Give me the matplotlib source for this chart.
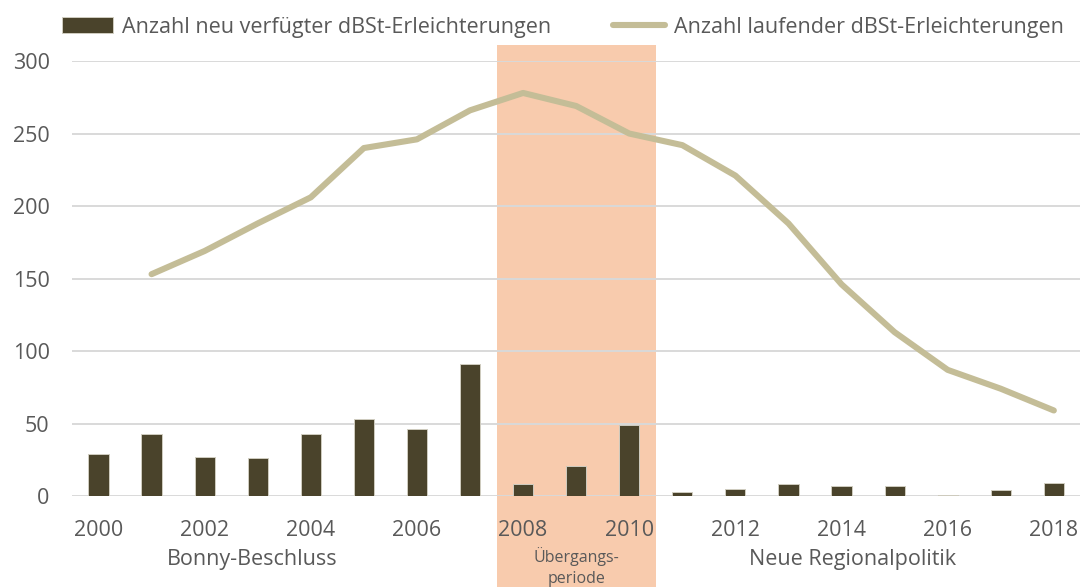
import numpy as np
import matplotlib
matplotlib.use("Agg")
import matplotlib.pyplot as plt

# Daten
jahre = list(range(2000, 2019))
neu_verfuegt = [29, 43, 27, 26, 43, 53, 46, 91, 8, 21, 49, 3, 5, 8, 7, 7, 1, 4, 9]
laufend = [None, 153, 169, 188, 206, 240, 246, 266, 278, 269, 250, 242, 221, 188, 146, 113, 87, 74, 59]
tick_jahre = [2000, 2002, 2004, 2006, 2008, 2010, 2012, 2014, 2016, 2018]
perioden = ["Bonny-Beschluss", "Übergangs-\nperiode", "Neue Regionalpolitik"]
perioden_x = [2002.9, 2009.0, 2014.2]
uebergang = (2007.5, 2010.5)

plt.rcParams['font.family'] = ['Open Sans', 'DejaVu Sans']
plt.rcParams['font.size'] = 15
grau = '#595959'

fig = plt.figure(figsize=(10.82, 5.87), dpi=100)
ax = fig.add_axes([0.0665, 0.155, 0.932, 0.741])

x = np.array(jahre)
y_lauf = np.array([np.nan if v is None else v for v in laufend], dtype=float)

# Übergangsperiode hinterlegen (ragt über die Achsen hinaus)
ax.axvspan(uebergang[0], uebergang[1], ymin=-0.21, ymax=1.037,
           color='#F8CBAD', lw=0, zorder=0.2, clip_on=False)

balken = ax.bar(x, neu_verfuegt, width=0.38, color='#4A432B', edgecolor='#d0cdc0',
                linewidth=0.7, zorder=2, label='Anzahl neu verfügter dBSt-Erleichterungen')
linie, = ax.plot(x, y_lauf, color='#C4BD97', lw=4.4, solid_capstyle='round',
                 solid_joinstyle='round', zorder=3, label='Anzahl laufender dBSt-Erleichterungen')

ax.set_xlim(1999.5, 2018.5)
ax.set_ylim(0, 300)
ax.set_yticks(range(0, 301, 50))
ax.set_xticks(tick_jahre)
ax.grid(axis='y', color='#D9D9D9', lw=1.4)
ax.set_axisbelow(True)
ax.set_facecolor('none')
for s in ax.spines.values():
    s.set_visible(False)
ax.tick_params(axis='both', length=0, colors=grau, labelsize=15.5)
ax.tick_params(axis='y', pad=16)
ax.tick_params(axis='x', pad=17)

# Periodenbeschriftung
trans = ax.get_xaxis_transform()
ax.text(perioden_x[0], -0.147, perioden[0], transform=trans, ha='center', va='center',
        fontsize=15.5, color=grau)
ax.text(perioden_x[1], -0.163, perioden[1], transform=trans, ha='center', va='center',
        fontsize=11.5, color=grau, linespacing=1.45)
ax.text(perioden_x[2], -0.147, perioden[2], transform=trans, ha='center', va='center',
        fontsize=15.5, color=grau)

leg = fig.legend(handles=[balken, linie], loc='center', bbox_to_anchor=(0.520, 0.954),
                 ncol=2, frameon=False, handlelength=2.4, handletextpad=0.4,
                 columnspacing=2.9, fontsize=15.5, handleheight=0.75)
for t in leg.get_texts():
    t.set_color(grau)

fig.savefig('out.png', dpi=100)
